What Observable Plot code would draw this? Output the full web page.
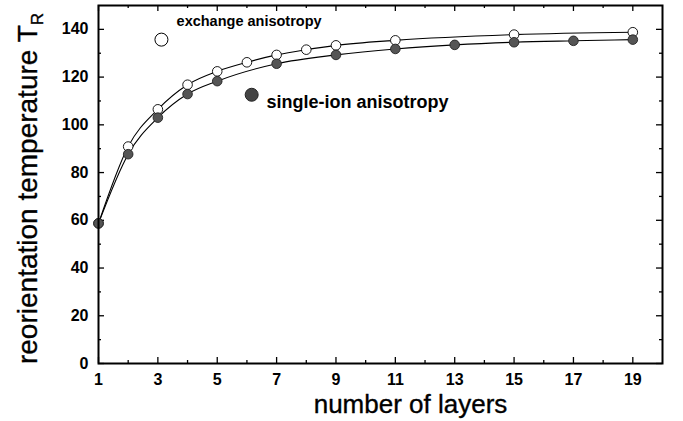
<!DOCTYPE html>
<html><head><meta charset="utf-8">
<script src="https://cdn.jsdelivr.net/npm/d3@7"></script>
<script src="https://cdn.jsdelivr.net/npm/@observablehq/plot@0.6"></script>
<style>body{margin:0;background:#fff}</style>
</head><body><div id="chart"></div>
<script>
// data
const exchangeLayers = [1, 2, 3, 4, 5, 6, 7, 8, 9, 11, 15, 19];
const exchangeTR = [58.7, 90.9, 106.5, 116.8, 122.4, 126.2, 129.3, 131.5, 133.3, 135.4, 137.8, 138.8];
const singleIonLayers = [1, 2, 3, 4, 5, 7, 9, 11, 13, 15, 17, 19];
const singleIonTR = [58.7, 87.7, 103.0, 112.9, 118.3, 125.6, 129.3, 131.8, 133.5, 134.6, 135.2, 135.7];
const xTickLabels = [1, 3, 5, 7, 9, 11, 13, 15, 17, 19];
const xMinorTicks = [2, 4, 6, 8, 10, 12, 14, 16, 18];
const yTickLabels = [0, 20, 40, 60, 80, 100, 120, 140];
const yMinorTicks = [10, 30, 50, 70, 90, 110, 130];
const seriesNames = ["exchange anisotropy", "single-ion anisotropy"];

const exchange = exchangeLayers.map((x, i) => ({x, y: exchangeTR[i]}));
const singleIon = singleIonLayers.map((x, i) => ({x, y: singleIonTR[i]}));

const W = 683, H = 421, mL = 98, mR = 21, mT = 5, mB = 58;
const pw = W - mL - mR, ph = H - mT - mB;
const font = "'Liberation Sans', Arial, Helvetica, sans-serif";

const chart = Plot.plot({
  width: W, height: H,
  marginLeft: mL, marginRight: mR, marginTop: mT, marginBottom: mB,
  style: {fontFamily: font, background: "white", color: "black", overflow: "visible"},
  x: {domain: [1, 20]},
  y: {domain: [0, 150]},
  marks: [
    // inward ticks, bottom / top
    Plot.tickX(xTickLabels, {x: d => d, insetTop: ph - 6, stroke: "black", strokeWidth: 1.3}),
    Plot.tickX(xTickLabels, {x: d => d, insetBottom: ph - 6, stroke: "black", strokeWidth: 1.3}),
    Plot.tickX(xMinorTicks, {x: d => d, insetTop: ph - 3, stroke: "black", strokeWidth: 1.3}),
    Plot.tickX(xMinorTicks, {x: d => d, insetBottom: ph - 3, stroke: "black", strokeWidth: 1.3}),
    // inward ticks, left / right
    Plot.tickY(yTickLabels, {y: d => d, insetRight: pw - 6, stroke: "black", strokeWidth: 1.3}),
    Plot.tickY(yTickLabels, {y: d => d, insetLeft: pw - 6, stroke: "black", strokeWidth: 1.3}),
    Plot.tickY(yMinorTicks, {y: d => d, insetRight: pw - 3, stroke: "black", strokeWidth: 1.3}),
    Plot.tickY(yMinorTicks, {y: d => d, insetLeft: pw - 3, stroke: "black", strokeWidth: 1.3}),
    Plot.axisX(xTickLabels, {tickSize: 0, tickPadding: 10, fontSize: 16, fontWeight: "bold", letterSpacing: 1, label: null}),
    Plot.axisY(yTickLabels, {tickSize: 0, tickPadding: 10, fontSize: 16, fontWeight: "bold", letterSpacing: 1, label: null}),
    Plot.text(["number of layers"], {frameAnchor: "bottom", textAnchor: "middle", dx: 30, dy: 49, fontSize: 26, fill: "black", stroke: "black", strokeWidth: 0.35}),
    Plot.text(["reorientation temperature T"], {frameAnchor: "left", textAnchor: "middle", rotate: -90, dx: -70, dy: 4, fontSize: 28, fill: "black", stroke: "black", strokeWidth: 0.35}),
    // fitted curves
    Plot.line(exchange, {x: "x", y: "y", curve: "monotone-x", stroke: "black", strokeWidth: 1.1}),
    Plot.line(singleIon, {x: "x", y: "y", curve: "monotone-x", stroke: "black", strokeWidth: 1.1}),
    Plot.dot(exchange, {x: "x", y: "y", r: 4.8, fill: "white", stroke: "black", strokeWidth: 0.9}),
    Plot.dot(singleIon, {x: "x", y: "y", r: 4.8, fill: "#555", stroke: "#222", strokeWidth: 0.9}),
    // legend
    Plot.dot([seriesNames[0]], {x: 3.12, y: 135.7, r: 6.5, fill: "white", stroke: "black", strokeWidth: 1}),
    Plot.text([seriesNames[0]], {x: 3.63, y: 143.2, text: d => d, textAnchor: "start", fontSize: 14.5, fontWeight: "bold", fill: "black"}),
    Plot.dot([seriesNames[1]], {x: 6.16, y: 112.6, r: 6.5, fill: "#444", stroke: "#222", strokeWidth: 1}),
    Plot.text([seriesNames[1]], {x: 6.66, y: 109.6, text: d => d, textAnchor: "start", fontSize: 18, fontWeight: "bold", fill: "black"}),
    Plot.frame({stroke: "black", strokeWidth: 2})
  ]
});
document.getElementById("chart").appendChild(chart);

// subscript R on the y-axis title
d3.select(chart).selectAll("text").each(function () {
  const t = d3.select(this);
  if (t.text() === "reorientation temperature T") {
    t.append("tspan").attr("font-size", 17).attr("dy", 6).text("R");
  }
});
</script>
</body></html>
